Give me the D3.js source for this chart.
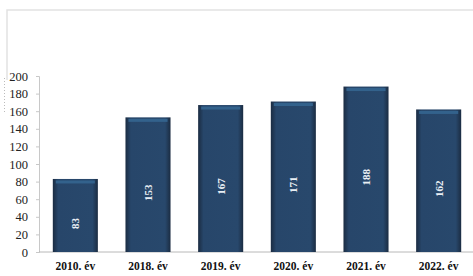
<!DOCTYPE html>
<html>
<head>
<meta charset="utf-8">
<script src="https://cdn.jsdelivr.net/npm/d3@7"></script>
<style>
  body { margin: 0; background: #fff; }
  svg { display: block; }
  .tick text { font-family: "Liberation Serif", "DejaVu Serif", serif; }
</style>
</head>
<body>
<svg id="chart" width="473" height="276"></svg>
<script>
const years = ['2010. év', '2018. év', '2019. év', '2020. év', '2021. év', '2022. év'];
const counts = [83, 153, 167, 171, 188, 162];
const yTicks = [0, 20, 40, 60, 80, 100, 120, 140, 160, 180, 200];

const width = 473, height = 276;
const margin = { top: 76, right: -2, bottom: 24, left: 39 };

const svg = d3.select('#chart');

// faint scan frame
svg.append('path')
  .attr('d', 'M7,80 L7,10 L473,10')
  .attr('fill', 'none')
  .attr('stroke', '#e2e2e2')
  .attr('stroke-width', 1.5);
svg.append('line')
  .attr('x1', 4.5).attr('x2', 4.5).attr('y1', 78).attr('y2', 112)
  .attr('stroke', '#bbb').attr('stroke-dasharray', '1,2');

const defs = svg.append('defs');
const grad = defs.append('linearGradient').attr('id', 'barGrad').attr('x1', 0).attr('x2', 1);
grad.append('stop').attr('offset', '0%').attr('stop-color', '#1b2c42');
grad.append('stop').attr('offset', '12%').attr('stop-color', '#27466a');
grad.append('stop').attr('offset', '88%').attr('stop-color', '#28486c');
grad.append('stop').attr('offset', '100%').attr('stop-color', '#1b2c42');

const x = d3.scaleBand()
  .domain(years)
  .range([margin.left, width - margin.right])
  .paddingInner(0.38)
  .paddingOuter(0.19);

const y = d3.scaleLinear()
  .domain([0, 200])
  .range([height - margin.bottom, margin.top]);

// y axis
const yAxis = svg.append('g')
  .attr('transform', `translate(${margin.left},0)`)
  .call(d3.axisLeft(y).tickValues(yTicks).tickSize(3).tickPadding(8));
yAxis.select('.domain').attr('stroke', '#c8c8c8');
yAxis.selectAll('.tick line').attr('stroke', '#c8c8c8');
yAxis.selectAll('.tick text')
  .attr('fill', '#222')
  .style('font-size', '12.5px');

// baseline
svg.append('line')
  .attr('x1', margin.left).attr('x2', width)
  .attr('y1', y(0)).attr('y2', y(0))
  .attr('stroke', '#b8b8b8');

const bars = svg.append('g').selectAll('g')
  .data(years.map((yr, i) => ({ yr, v: counts[i] })))
  .join('g');

bars.append('rect')
  .attr('x', d => x(d.yr))
  .attr('y', d => y(d.v))
  .attr('width', x.bandwidth())
  .attr('height', d => y(0) - y(d.v))
  .attr('fill', 'url(#barGrad)');

// lighter top band
bars.append('rect')
  .attr('x', d => x(d.yr) + 3)
  .attr('y', d => y(d.v) + 1.5)
  .attr('width', x.bandwidth() - 6)
  .attr('height', 3)
  .attr('fill', '#33628c');

bars.append('text')
  .attr('transform', d => `translate(${x(d.yr) + x.bandwidth() / 2 + 4},${(y(d.v) + y(0)) / 2 + 8}) rotate(-90)`)
  .attr('fill', '#e8eef4')
  .attr('text-anchor', 'middle')
  .style('font-family', '"Liberation Serif", serif')
  .style('font-weight', 'bold')
  .style('font-size', '11px')
  .text(d => d.v);

// x labels
const xAxis = svg.append('g')
  .attr('transform', `translate(0,${y(0)})`)
  .call(d3.axisBottom(x).tickSize(0).tickPadding(10));
xAxis.select('.domain').remove();
xAxis.selectAll('.tick text')
  .attr('fill', '#111')
  .style('font-weight', 'bold')
  .style('font-size', '11.5px');
</script>
</body>
</html>
